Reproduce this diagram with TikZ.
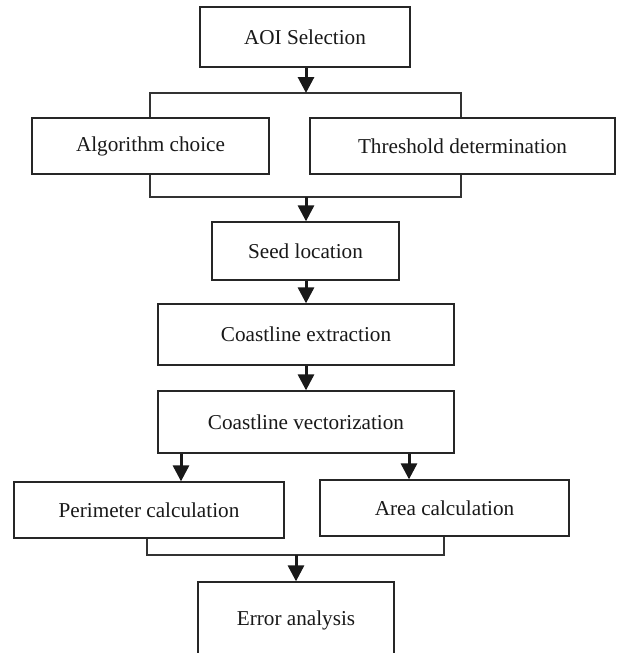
\documentclass[tikz,border=0pt]{standalone}
\usepackage{fontspec}
\setmainfont{Liberation Serif}
\usetikzlibrary{arrows.meta}
\begin{document}
\begin{tikzpicture}[x=1pt,y=-1pt,
  box/.style={draw=black!85,line width=1.3pt,rectangle,inner sep=0pt,
    font=\fontsize{21.2}{25}\selectfont,text=black!90},
  flow/.style={line width=3pt,draw=black!90,-{Triangle[width=16pt,length=16pt]}},
  link/.style={draw=black!80,line width=1.3pt}]
\useasboundingbox (0,0) rectangle (617,653);
\clip (0,0) rectangle (617,653);
\fill[white] (0,0) rectangle (617,653);
\node[box,minimum width=210pt,minimum height=60pt] (aoi) at (305,37) {AOI Selection};
\node[box,minimum width=237pt,minimum height=56pt] (alg) at (150.5,146) {Algorithm choice};
\node[box,minimum width=305pt,minimum height=56pt] (thr) at (462.5,146) {Threshold determination};
\node[box,minimum width=187pt,minimum height=58pt] (seed) at (305.5,251) {Seed location};
\node[box,minimum width=296pt,minimum height=61pt] (ext) at (306,334.5) {Coastline extraction};
\node[box,minimum width=296pt,minimum height=62pt] (vec) at (306,422) {Coastline vectorization};
\node[box,minimum width=270pt,minimum height=56pt] (per) at (149,510) {Perimeter calculation};
\node[box,minimum width=249pt,minimum height=56pt] (area) at (444.5,508) {Area calculation};
\node[box,minimum width=196pt,minimum height=76pt] (err) at (296,620) {Error analysis};
\coordinate (t1) at (306,93);
\coordinate (t2) at (306,197);
\coordinate (b1) at (296,555);
% top bracket
\draw[link] (alg.north -| 150,0) |- (t1) -| (thr.north -| 461,0);
\draw[link] (alg.south -| 150,0) |- (t2) -| (thr.south -| 461,0);
\draw[flow] (aoi.south -| t1) -- (t1);
\draw[flow] (t2) -- (seed.north -| t2);
\draw[flow] (seed.south -| t2) -- (ext.north -| t2);
\draw[flow] (ext.south -| t2) -- (vec.north -| t2);
\draw[flow] (vec.south -| 181,0) -- (per.north -| 181,0);
\draw[flow] (vec.south -| 409,0) -- (area.north -| 409,0);
\draw[link] (per.south -| 147,0) |- (b1) -| (area.south -| 444,0);
\draw[flow] (b1) -- (err.north -| b1);
\end{tikzpicture}
\end{document}
